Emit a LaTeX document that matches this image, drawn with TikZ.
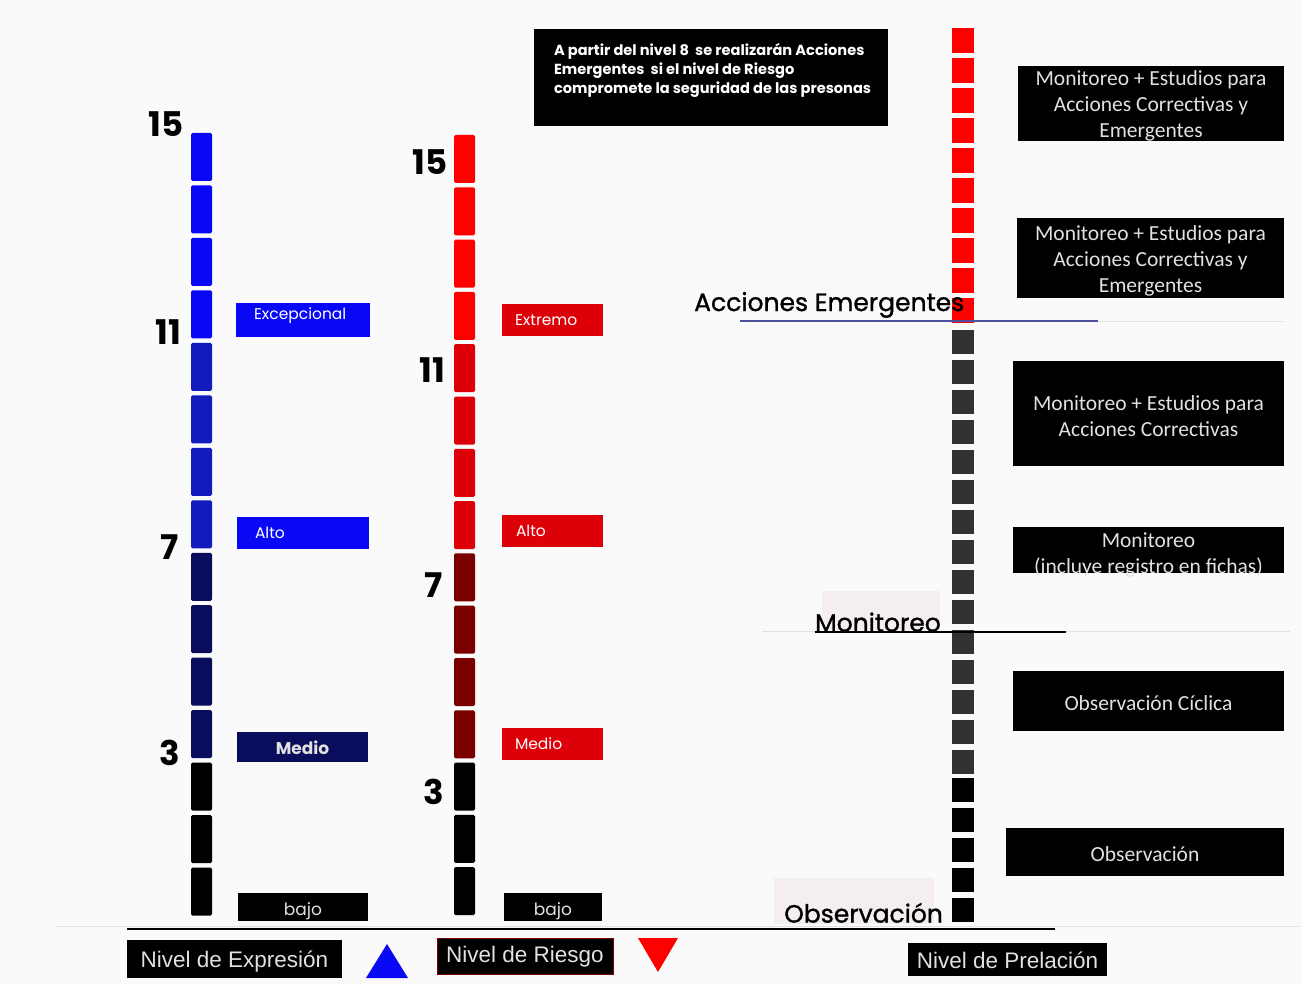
\documentclass[tikz,border=0pt]{standalone}
\usepackage{fontspec}
\setmainfont{Poppins}
\newfontfamily\calib{Carlito}
\newfontfamily\arial{Liberation Sans}
\newfontfamily\zonefont[FakeBold=1.2]{Poppins}
\usetikzlibrary{calc}

\definecolor{bgwhite}{RGB}{250,250,250}
\definecolor{expA}{RGB}{8,8,245}
\definecolor{expB}{RGB}{18,28,190}
\definecolor{expC}{RGB}{10,12,92}
\definecolor{rskA}{RGB}{255,0,0}
\definecolor{rskB}{RGB}{222,0,8}
\definecolor{rskC}{RGB}{122,0,0}
\definecolor{prlC}{RGB}{50,50,50}
\definecolor{boxtxt}{RGB}{225,225,225}
\definecolor{midline}{RGB}{80,80,160}
\definecolor{faint}{RGB}{225,225,225}
\definecolor{pinkbg}{RGB}{245,238,238}

\tikzset{
  numlbl/.style={anchor=east, inner sep=0pt, font=\fontsize{34}{34}\selectfont\bfseries},
  lvlbox/.style={inner sep=0pt, minimum height=32pt},
  lvltext/.style={anchor=west, inner sep=0pt, text=white, font=\fontsize{15.5}{15.5}\selectfont},
  actbox/.style={fill=black, inner sep=0pt, minimum width=270pt},
  acttext/.style={inner sep=0pt, align=center, text=boxtxt, font=\calib\fontsize{21.5}{26}\selectfont},
  keybox/.style={fill=black, inner sep=0pt},
  keytext/.style={inner sep=0pt, text=boxtxt, font=\arial\fontsize{22.5}{22.5}\selectfont},
  zonelbl/.style={inner sep=0pt, font=\zonefont\fontsize{25}{25}\selectfont}
}

\begin{document}
\begin{tikzpicture}[x=1pt,y=-1pt]
    \fill[bgwhite] (0,0) rectangle (1303,984);
    \useasboundingbox (0,0) rectangle (1303,984);

    % faint guide lines
    \coordinate (G1a) at (1098,321);
    \coordinate (G1b) at (1284,321);
    \coordinate (G2a) at (762,631);
    \coordinate (G2b) at (1290,631);
    \coordinate (G3a) at (55,926);
    \coordinate (G3b) at (1300,926);
    \draw[faint, line width=1pt] (G1a) to (G1b);
    \draw[faint, line width=1pt] (G2a) to (G2b);
    \draw[faint, line width=1pt] (G3a) to (G3b);

    % pink patches behind the zone names
    \fill[pinkbg] (822,591) rectangle (940,630);
    \fill[pinkbg] (774,878) rectangle (934,924);

    % columna Nivel de Expresion
    \foreach \i/\c in {0/expA,1/expA,2/expA,3/expA,4/expB,5/expB,6/expB,7/expB,
        8/expC,9/expC,10/expC,11/expC,12/black,13/black,14/black}
        \fill[\c, rounded corners=1.5pt] (191,{133+\i*52.47}) rectangle ++(21,48);

    % columna Nivel de Riesgo
    \foreach \i/\c in {0/rskA,1/rskA,2/rskA,3/rskA,4/rskB,5/rskB,6/rskB,7/rskB,
        8/rskC,9/rskC,10/rskC,11/rskC,12/black,13/black,14/black}
        \fill[\c, rounded corners=1.5pt] (454,{135+\i*52.3}) rectangle ++(21,48);

    % columna Nivel de Prelacion
    \foreach \i in {0,...,9}
        \fill[rskA] (952,{28+\i*30}) rectangle ++(22,25);
    \foreach \i in {10,...,24}
        \fill[prlC] (952,{30+\i*30}) rectangle ++(22,24);
    \foreach \i in {25,...,29}
        \fill[black] (952,{28+\i*30}) rectangle ++(22,24);

    % escalas
    \node[numlbl] at (184,124) {15};
    \node[numlbl] at (181,332) {11};
    \node[numlbl] at (179,547) {7};
    \node[numlbl] at (180,753) {3};
    \node[numlbl] at (448,162) {15};
    \node[numlbl] at (445,370) {11};
    \node[numlbl] at (443,585) {7};
    \node[numlbl] at (444,792) {3};

    % niveles de expresion
    \node[lvlbox, fill=expA, minimum width=134pt, minimum height=34pt] (exc) at (303,320) {};
    \node[lvltext] at ($(exc.west)+(18,-4)$) {Excepcional};
    \node[lvlbox, fill=expA, minimum width=132pt] (altE) at (303,533) {};
    \node[lvltext] at ($(altE.west)+(18,0)$) {Alto};
    \node[lvlbox, fill=expC, minimum width=131pt, minimum height=30pt] (medE) at (302.5,747) {};
    \node[inner sep=0pt, text=boxtxt, font=\fontsize{17}{17}\selectfont\bfseries] at ($(medE)+(0,1)$) {Medio};
    \node[lvlbox, fill=black, minimum width=130pt, minimum height=28pt] (bajE) at (303,907) {};
    \node[inner sep=0pt, text=boxtxt, font=\fontsize{17}{17}\selectfont] at ($(bajE)+(0,4)$) {bajo};

    % niveles de riesgo
    \node[lvlbox, fill=rskB, minimum width=101pt] (ext) at (552.5,320) {};
    \node[lvltext] at ($(ext.west)+(13,0)$) {Extremo};
    \node[lvlbox, fill=rskB, minimum width=101pt] (altR) at (552.5,531) {};
    \node[lvltext] at ($(altR.west)+(14,0)$) {Alto};
    \node[lvlbox, fill=rskB, minimum width=101pt] (medR) at (552.5,744) {};
    \node[lvltext] at ($(medR.west)+(13,0)$) {Medio};
    \node[lvlbox, fill=black, minimum width=98pt, minimum height=28pt] (bajR) at (553,907) {};
    \node[inner sep=0pt, text=boxtxt, font=\fontsize{17}{17}\selectfont] at ($(bajR)+(0,4)$) {bajo};

    % nota superior
    \node[fill=black, minimum width=354pt, minimum height=97pt, inner sep=0pt] (nota) at (711,77.5) {};
    \node[anchor=north west, inner sep=0pt, align=left, text=white,
        font=\fontsize{14.6}{19}\selectfont\bfseries] at ($(nota.north west)+(20,14.5)$)
        {A partir del nivel 8\ \ se realizarán Acciones\\
         Emergentes\ \ si el nivel de Riesgo\\
         compromete la seguridad de las presonas};

    % acciones por prelacion
    \node[actbox, minimum width=266pt, minimum height=75pt] (act1) at (1151,103.5) {};
    \node[acttext] at ($(act1)+(0,2)$) {Monitoreo + Estudios para\\Acciones Correctivas y\\Emergentes};
    \node[actbox, minimum width=267pt, minimum height=80pt] (act2) at (1150.5,258) {};
    \node[acttext] at ($(act2)+(0,3)$) {Monitoreo + Estudios para\\Acciones Correctivas y\\Emergentes};
    \node[actbox, minimum width=271pt, minimum height=105pt] (act3) at (1148.5,413.5) {};
    \node[acttext] at ($(act3)+(0,3)$) {Monitoreo + Estudios para\\Acciones Correctivas};
    \node[actbox, minimum width=271pt, minimum height=46pt] (act4) at (1148.5,550) {};
    \node[acttext] at ($(act4)+(0,5)$) {Monitoreo\\(incluye registro en fichas)};
    \node[actbox, minimum width=271pt, minimum height=60pt] (act5) at (1148.5,701) {};
    \node[acttext] at ($(act5)+(0,2)$) {Observación Cíclica};
    \node[actbox, minimum width=278pt, minimum height=48pt] (act6) at (1145,852) {};
    \node[acttext] at ($(act6)+(0,2)$) {Observación};

    % zonas
    \node[zonelbl, anchor=south west] (zAE) at (694,318) {Acciones Emergentes};
    \node[zonelbl, anchor=south west] (zMo) at (815,632) {Monitoreo};
    \node[zonelbl, anchor=south west] (zOb) at (784,923) {Observación};
    \coordinate (L1a) at (740,321);
    \coordinate (L1b) at (1098,321);
    \coordinate (L2a) at (815,632);
    \coordinate (L2b) at (1066,632);
    \coordinate (L3a) at (127,929);
    \coordinate (L3b) at (1055,929);
    \draw[midline, line width=1.5pt] (L1a) to (L1b);
    \draw[black, line width=1.5pt] (L2a) to (L2b);
    \draw[black, line width=2pt] (L3a) to (L3b);

    % leyenda
    \node[keybox, minimum width=215pt, minimum height=38pt] (kExp) at (234.5,959) {};
    \node[keytext] at ($(kExp)+(0,3)$) {Nivel de Expresión};
    \node[keybox, draw=rskC, minimum width=176pt, minimum height=36pt] (kRsk) at (525,956) {};
    \node[keytext] at ($(kRsk)+(0,1)$) {Nivel de Riesgo};
    \node[keybox, minimum width=199pt, minimum height=33pt] (kPrl) at (1007.5,959.5) {};
    \node[keytext] at ($(kPrl)+(0,1)$) {Nivel de Prelación};
    \coordinate (T1a) at (366,978);
    \coordinate (T1b) at (408,978);
    \coordinate (T1c) at (387,944);
    \coordinate (T2a) at (638,938);
    \coordinate (T2b) at (678,938);
    \coordinate (T2c) at (658,972);
    \fill[expA] (T1a) -- (T1b) -- (T1c) -- cycle;
    \fill[rskA] (T2a) -- (T2b) -- (T2c) -- cycle;
\end{tikzpicture}
\end{document}
